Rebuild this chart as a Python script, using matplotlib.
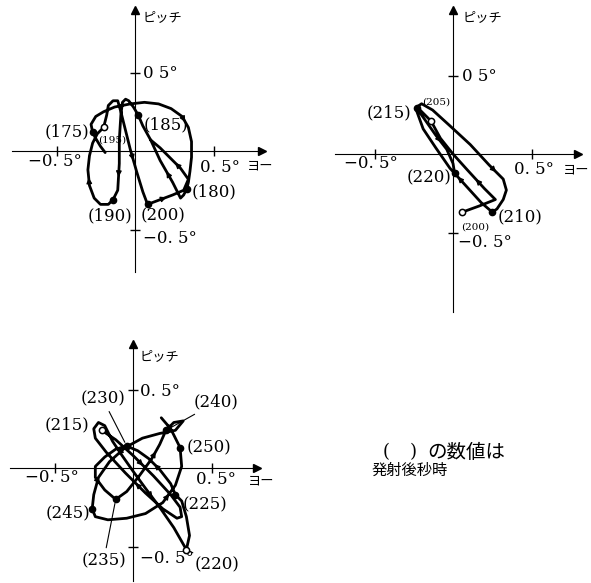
import matplotlib.pyplot as plt

plt.rcParams['font.family'] = ['DejaVu Serif', 'Noto Sans CJK JP']

W, H = 591, 583
S = 157.0  # pixels per degree

# ---- attitude data: yaw (deg), pitch (deg) ----
# 175 - 200 s
yaw_a = [-0.19, -0.22, -0.25, -0.27, -0.28, -0.25, -0.20, -0.13, -0.03, 0.06,
         0.15, 0.23, 0.30, 0.34, 0.36, 0.36, 0.35, 0.34, 0.33, 0.31,
         0.29, 0.24, 0.16, 0.10, 0.05, 0.02, -0.01, -0.04, -0.06, -0.08,
         -0.09, -0.10, -0.10, -0.11, -0.14, -0.17, -0.22, -0.26, -0.29, -0.30,
         -0.29, -0.27, -0.24, -0.20, -0.18, -0.17, -0.14, -0.11, -0.09, -0.06,
         -0.03, 0.01, 0.05, 0.08, 0.16, 0.24, 0.31, 0.34, 0.29, 0.22,
         0.16, 0.10]
pitch_a = [-0.01, 0.03, 0.08, 0.12, 0.17, 0.22, 0.25, 0.28, 0.30, 0.31,
           0.30, 0.27, 0.22, 0.15, 0.06, -0.04, -0.13, -0.20, -0.24, -0.28,
           -0.30, -0.20, -0.06, 0.07, 0.16, 0.23, 0.28, 0.32, 0.33, 0.31,
           0.23, 0.07, -0.08, -0.25, -0.31, -0.34, -0.34, -0.30, -0.22, -0.12,
           -0.03, 0.05, 0.11, 0.15, 0.23, 0.29, 0.32, 0.32, 0.25, 0.13,
           0.01, -0.13, -0.26, -0.34, -0.31, -0.28, -0.25, -0.18, -0.11, -0.04,
           0.02, 0.07]
t_a = [175, 180, 185, 190, 195, 200]
idx_a = [3, 18, 25, 34, 43, 53]
open_a = [195]
arrows_a = [12, 21, 32, 38, 50, 54, 58]

# 200 - 220 s
yaw_b = [0.06, 0.17, 0.27, 0.20, 0.09, 0.00, -0.08, -0.14, -0.20, -0.23,
         -0.20, -0.13, -0.02, 0.11, 0.23, 0.32, 0.34, 0.32, 0.28, 0.25,
         0.18, 0.08, -0.02, -0.11, -0.19, -0.23, -0.23, -0.18, -0.11, -0.04,
         0.00, 0.01]
pitch_b = [-0.37, -0.33, -0.29, -0.22, -0.10, 0.00, 0.10, 0.21, 0.27, 0.30,
           0.32, 0.28, 0.18, 0.06, -0.07, -0.16, -0.23, -0.29, -0.35, -0.37,
           -0.31, -0.20, -0.09, 0.04, 0.16, 0.27, 0.29, 0.22, 0.12, 0.03,
           -0.06, -0.12]
t_b = [200, 205, 210, 215, 220]
idx_b = [0, 7, 19, 26, 31]
open_b = [200, 205]
arrows_b = [3, 14, 21, 28]

# 215 - 250 s
yaw_c = [-0.20, -0.11, 0.00, 0.13, 0.24, 0.30, 0.31, 0.28, 0.19, 0.08,
         -0.05, -0.17, -0.24, -0.25, -0.22, -0.18, -0.13, -0.07, 0.00, 0.08,
         0.17, 0.26, 0.34, 0.36, 0.34, 0.31, 0.27, 0.24, 0.17, 0.10,
         0.03, -0.04, -0.11, -0.18, -0.24, -0.24, -0.18, -0.11, -0.04, 0.04,
         0.12, 0.17, 0.21, 0.26, 0.32, 0.27, 0.17, 0.06, -0.05, -0.15,
         -0.22, -0.25, -0.26, -0.24, -0.16, -0.04, 0.08, 0.19, 0.27, 0.31,
         0.30, 0.27, 0.24, 0.18]
pitch_c = [0.24, 0.18, 0.08, -0.05, -0.17, -0.25, -0.31, -0.32, -0.26, -0.16,
           -0.03, 0.10, 0.19, 0.25, 0.29, 0.27, 0.17, 0.08, -0.02, -0.13,
           -0.25, -0.38, -0.52, -0.43, -0.31, -0.21, -0.17, -0.10, -0.01, 0.06,
           0.11, 0.14, 0.12, 0.07, 0.01, -0.06, -0.14, -0.20, -0.15, -0.05,
           0.06, 0.15, 0.24, 0.29, 0.30, 0.24, 0.22, 0.19, 0.13, 0.04,
           -0.06, -0.17, -0.26, -0.31, -0.33, -0.32, -0.29, -0.22, -0.11, 0.01,
           0.13, 0.19, 0.25, 0.32]
t_c = [215, 220, 225, 230, 235, 240, 245, 250]
idx_c = [0, 22, 26, 31, 37, 42, 52, 60]
open_c = [215, 220]
arrows_c = [2, 9, 19, 28, 35, 40, 48, 57, 62]

fig = plt.figure(figsize=(W / 100, H / 100), dpi=100)


def make_panel(x0, x1, y0, y1, ox, oy):
    # axes box in pixels, origin (ox, oy) in pixels
    ax = fig.add_axes([x0 / W, 1 - y1 / H, (x1 - x0) / W, (y1 - y0) / H])
    ax.set_xlim((x0 - ox) / S, (x1 - ox) / S)
    ax.set_ylim((oy - y1) / S, (oy - y0) / S)
    ax.patch.set_visible(False)
    ax.spines['top'].set_visible(False)
    ax.spines['right'].set_visible(False)
    ax.spines['left'].set_position(('data', 0))
    ax.spines['bottom'].set_position(('data', 0))
    ax.set_xticks([-0.5, 0.5])
    ax.set_yticks([-0.5, 0.5])
    ax.tick_params(direction='inout', length=7, width=1,
                   labelleft=False, labelbottom=False)
    ax.plot(1, 0, '>', ms=6, color='k', transform=ax.get_yaxis_transform(), clip_on=False)
    ax.plot(0, 1, '^', ms=6, color='k', transform=ax.get_xaxis_transform(), clip_on=False)
    return ax


def put(ax, s, xy, dx, dy, ha='center', size=12, leader=False):
    kw = {}
    if leader:
        kw['arrowprops'] = dict(arrowstyle='-', lw=0.8, color='k', shrinkA=1, shrinkB=3)
    ax.annotate(s, xy, xytext=(dx, dy), textcoords='offset pixels',
                ha=ha, va='center', fontsize=size, **kw)


def name_pitch(ax, dx, dy):
    ax.annotate('ピッチ', (0, 1), xycoords=ax.get_xaxis_transform(), xytext=(dx, dy),
                textcoords='offset pixels', ha='left', va='center', fontsize=9.5)


def draw_path(ax, yaw, pitch, t, idx, opened, arrows):
    ax.plot(yaw, pitch, color='k', lw=2.0, solid_joinstyle='round', solid_capstyle='round')
    for i in arrows:
        mid = ((yaw[i] + yaw[i + 1]) / 2, (pitch[i] + pitch[i + 1]) / 2)
        ax.annotate('', xy=mid, xytext=(yaw[i], pitch[i]),
                    arrowprops=dict(arrowstyle='-|>', color='k', lw=1,
                                    mutation_scale=8, shrinkA=0, shrinkB=0))
    for tt, i in zip(t, idx):
        if tt in opened:
            ax.plot(yaw[i], pitch[i], 'o', ms=4.5, mfc='white', mec='k', mew=1.1, zorder=5)
        else:
            ax.plot(yaw[i], pitch[i], 'o', ms=4.5, color='k', zorder=5)


def pt(yaw, pitch, t, idx, tt):
    i = idx[t.index(tt)]
    return (yaw[i], pitch[i])


# 175 - 200 s
ax1 = make_panel(12, 262, 10, 272, 135, 151)
draw_path(ax1, yaw_a, pitch_a, t_a, idx_a, open_a, arrows_a)
name_pitch(ax1, 8, -8)
put(ax1, '0 5°', (0, 0.5), 8, -1, ha='left')
put(ax1, '−0. 5°', (0, -0.5), 8, -9, ha='left')
put(ax1, '−0. 5°', (-0.5, 0), -2, -10)
put(ax1, '0. 5°', (0.5, 0), 6, -17)
put(ax1, 'ヨー', (0.5, 0), 33, -15, ha='left', size=9.5)
p = lambda tt: pt(yaw_a, pitch_a, t_a, idx_a, tt)
put(ax1, '(175)', p(175), -3, 0, ha='right')
put(ax1, '(195)', p(195), 9, -13, size=7.5)
put(ax1, '(185)', p(185), 5, -10, ha='left')
put(ax1, '(180)', p(180), 5, -3, ha='left')
put(ax1, '(190)', p(190), -3, -16)
put(ax1, '(200)', p(200), 16, -11)

# 200 - 220 s
ax2 = make_panel(335, 578, 10, 312, 453, 154)
draw_path(ax2, yaw_b, pitch_b, t_b, idx_b, open_b, arrows_b)
name_pitch(ax2, 10, -8)
put(ax2, '0 5°', (0, 0.5), 9, -1, ha='left')
put(ax2, '−0. 5°', (0, -0.5), 5, -10, ha='left')
put(ax2, '−0. 5°', (-0.5, 0), -4, -9)
put(ax2, '0. 5°', (0.5, 0), 3, -16)
put(ax2, 'ヨー', (0.5, 0), 31, -16, ha='left', size=9.5)
p = lambda tt: pt(yaw_b, pitch_b, t_b, idx_b, tt)
put(ax2, '(205)', p(205), 5, 19, size=7.5)
put(ax2, '(215)', p(215), -6, -4, ha='right')
put(ax2, '(220)', p(220), -3, -5, ha='right')
put(ax2, '(210)', p(210), 5, -5, ha='left')
put(ax2, '(200)', p(200), 13, -15, size=7.5)

# 215 - 250 s
ax3 = make_panel(10, 257, 344, 581, 133, 468)
draw_path(ax3, yaw_c, pitch_c, t_c, idx_c, open_c, arrows_c)
name_pitch(ax3, 7, -13)
put(ax3, '0. 5°', (0, 0.5), 7, -2, ha='left')
put(ax3, '−0. 5°', (0, -0.5), 7, -12, ha='left')
put(ax3, '−0. 5°', (-0.5, 0), -3, -9)
put(ax3, '0. 5°', (0.5, 0), 4, -12)
put(ax3, 'ヨー', (0.5, 0), 36, -13, ha='left', size=9.5)
p = lambda tt: pt(yaw_c, pitch_c, t_c, idx_c, tt)
put(ax3, '(215)', p(215), -12, 5, ha='right')
put(ax3, '(230)', p(230), -24, 47, leader=True)
put(ax3, '(240)', p(240), 50, 28, leader=True)
put(ax3, '(250)', p(250), 7, 0, ha='left')
put(ax3, '(225)', p(225), 7, -10, ha='left')
put(ax3, '(245)', p(245), -2, -4, ha='right')
put(ax3, '(235)', p(235), -12, -61, leader=True)
put(ax3, '(220)', p(220), 31, -15, leader=True)

# note: numbers in parentheses are seconds after launch
fig.text(383 / W, 1 - 452 / H, '(', fontsize=13, va='center', ha='left')
fig.text(410 / W, 1 - 452 / H, ')', fontsize=13, va='center', ha='left')
fig.text(427 / W, 1 - 452 / H, 'の数値は', fontsize=14, va='center', ha='left',
         family=['Noto Sans CJK JP'])
fig.text(372 / W, 1 - 470 / H, '発射後秒時', fontsize=11, va='center', ha='left',
         family=['Noto Sans CJK JP'])

fig.savefig('out.png', dpi=100, facecolor='white')
